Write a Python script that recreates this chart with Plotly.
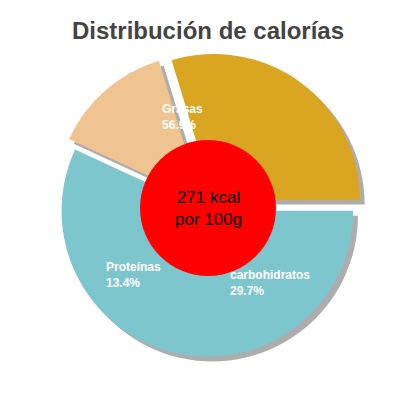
import plotly.graph_objects as go

labels = ["Grasas", "Proteínas", "carbohidratos"]
values = [56.9, 13.4, 29.7]
colors = ["#7ec6ce", "#f0c490", "#daa520"]
pulls = [0.02, 0.07, 0.07]
center_text = "271 kcal<br>por 100g"
label_pos = [(0.38, 0.77), (0.24, 0.29), (0.55, 0.27)]

dom_x = [0.11, 0.89]
dom_y = [0.11, 0.89]

fig = go.Figure()
# shadow
fig.add_trace(go.Pie(
    labels=labels, values=values, sort=False, direction="clockwise", rotation=90,
    pull=pulls, marker=dict(colors=["#777777"] * 3), textinfo="none", hoverinfo="skip",
    domain=dict(x=[dom_x[0] + 0.012, dom_x[1] + 0.012], y=[dom_y[0] - 0.012, dom_y[1] - 0.012]),
    opacity=0.6, showlegend=False,
))
fig.add_trace(go.Pie(
    labels=labels, values=values, sort=False, direction="clockwise", rotation=90,
    pull=pulls, marker=dict(colors=colors, line=dict(width=0)), textinfo="none",
    domain=dict(x=dom_x, y=dom_y), showlegend=False,
))
for lab, val, (lx, ly) in zip(labels, values, label_pos):
    fig.add_annotation(text=f"<b>{lab}<br>{val}%</b>", x=lx, y=ly, xref="paper", yref="paper",
                       showarrow=False, align="left", xanchor="left",
                       font=dict(size=12, color="white", family="Liberation Sans"))
fig.add_shape(type="circle", xref="paper", yref="paper", x0=0.33, x1=0.67, y0=0.33, y1=0.67,
              fillcolor="#ff0000", line=dict(width=0))
fig.add_annotation(text=center_text, x=0.5, y=0.5, xref="paper", yref="paper", showarrow=False,
                   font=dict(size=17, color="black", family="Liberation Sans"))
fig.update_layout(
    width=400, height=400, margin=dict(l=0, r=0, t=0, b=0),
    paper_bgcolor="white",
    title=dict(text="<b>Distribución de calorías</b>", x=0.5, y=0.965, xanchor="center",
               font=dict(size=24, color="#444444", family="Liberation Sans")),
)
fig.write_html("out.html")
